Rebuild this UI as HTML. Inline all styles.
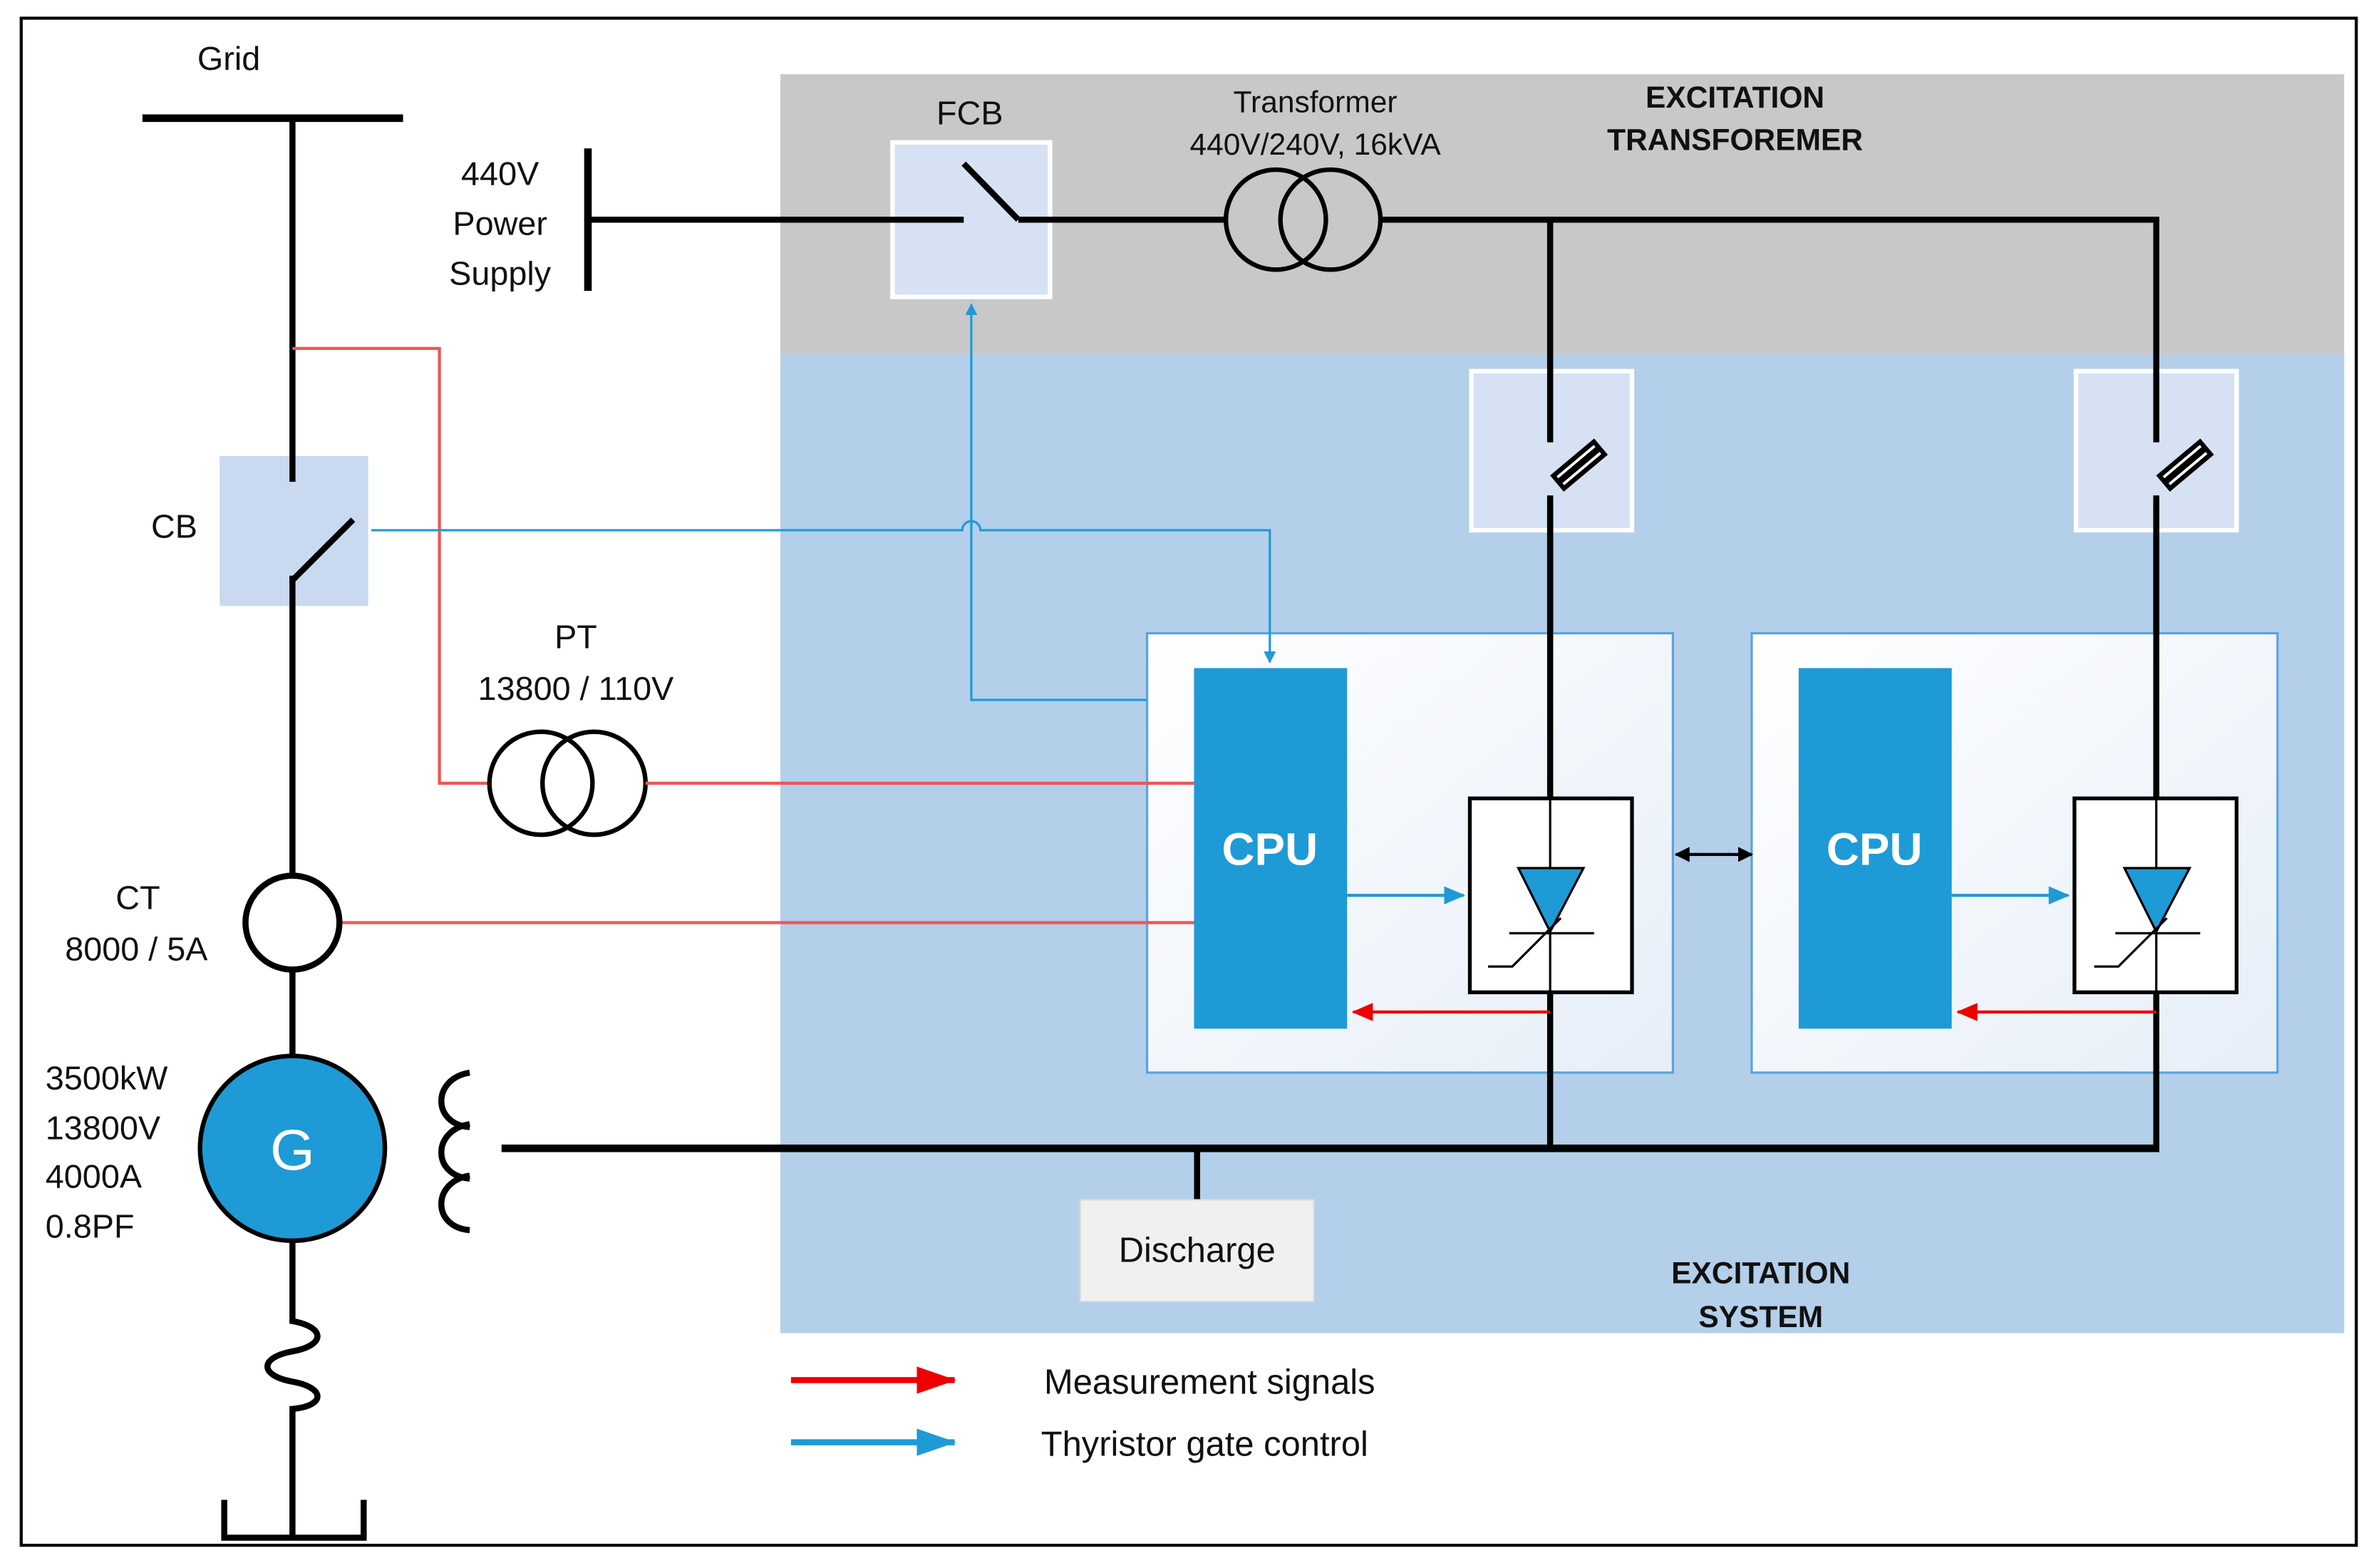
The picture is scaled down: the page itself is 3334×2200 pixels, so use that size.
<!DOCTYPE html>
<html><head><meta charset="utf-8"><style>
html,body{margin:0;padding:0;background:#fff;width:3334px;height:2200px;overflow:hidden}
svg{display:block}
text{font-family:"Liberation Sans",sans-serif;fill:#111}
</style></head><body>
<svg width="3334" height="2200" viewBox="0 0 1568 1035" preserveAspectRatio="none" xmlns="http://www.w3.org/2000/svg">
<defs>
<marker id="ab" markerWidth="8" markerHeight="8" refX="7" refY="4" orient="auto" markerUnits="userSpaceOnUse"><path d="M0,0 L8,4 L0,8z" fill="#1e9ad6"/></marker>
<marker id="ar" markerWidth="14" markerHeight="12" refX="13" refY="6" orient="auto" markerUnits="userSpaceOnUse"><path d="M0,0 L14,6 L0,12z" fill="#e00"/></marker>
<marker id="ab2" markerWidth="14" markerHeight="12" refX="13" refY="6" orient="auto" markerUnits="userSpaceOnUse"><path d="M0,0 L14,6 L0,12z" fill="#1e9ad6"/></marker>
<marker id="arL" markerWidth="26" markerHeight="18" refX="25" refY="9" orient="auto" markerUnits="userSpaceOnUse"><path d="M0,0 L26,9 L0,18z" fill="#e00"/></marker>
<marker id="abL" markerWidth="26" markerHeight="18" refX="25" refY="9" orient="auto" markerUnits="userSpaceOnUse"><path d="M0,0 L26,9 L0,18z" fill="#1e9ad6"/></marker>
<marker id="ak" markerWidth="10" markerHeight="10" refX="9" refY="5" orient="auto" markerUnits="userSpaceOnUse"><path d="M0,0 L10,5 L0,10z" fill="#000"/></marker>
<linearGradient id="mg" x1="0" y1="0" x2="1" y2="1"><stop offset="0" stop-color="#fff"/><stop offset="1" stop-color="#e6eef8"/></linearGradient>
</defs>
<rect x="14" y="12" width="1541" height="1008" fill="#fff" stroke="#000" stroke-width="2"/>
<rect x="515" y="49" width="1032" height="185" fill="#c8c8c8"/>
<rect x="515" y="234" width="1032" height="646" fill="#b4cfea"/>
<text x="151" y="46" font-size="22" text-anchor="middle">Grid</text>
<line x1="94" y1="78" x2="266" y2="78" stroke="#000" stroke-width="5"/>
<rect x="145" y="301" width="98" height="99" fill="#c9daf0"/>
<line x1="193" y1="78" x2="193" y2="318" stroke="#000" stroke-width="4"/>
<line x1="193" y1="383" x2="233" y2="343" stroke="#000" stroke-width="4"/>
<line x1="193" y1="380" x2="193" y2="578" stroke="#000" stroke-width="4"/>
<text x="115" y="355" font-size="22" text-anchor="middle">CB</text>
<circle cx="193" cy="609" r="31" fill="none" stroke="#000" stroke-width="4"/>
<line x1="193" y1="640" x2="193" y2="697" stroke="#000" stroke-width="4"/>
<text x="91" y="600" font-size="22" text-anchor="middle">CT</text>
<text x="90" y="634" font-size="22" text-anchor="middle">8000 / 5A</text>
<circle cx="193" cy="758" r="61" fill="#1e9ad6" stroke="#000" stroke-width="3"/>
<text x="193" y="772" font-size="38" text-anchor="middle" style="fill:#fff">G</text>
<text x="30" y="719" font-size="22">3500kW</text>
<text x="30" y="752" font-size="22">13800V</text>
<text x="30" y="784" font-size="22">4000A</text>
<text x="30" y="817" font-size="22">0.8PF</text>
<path d="M193,820 L193,872 C215,876 215,888 193,892 C171,896 171,908 193,912 C215,916 215,928 193,930 L193,1015" fill="none" stroke="#000" stroke-width="4"/>
<path d="M148,990 L148,1015 L240,1015 L240,990" fill="none" stroke="#000" stroke-width="4"/>
<path d="M310,708 C285,712 285,742 310,744 M310,742 C285,746 285,776 310,778 M310,776 C285,780 285,810 310,812" fill="none" stroke="#000" stroke-width="4"/>
<line x1="331" y1="758" x2="1425" y2="758" stroke="#000" stroke-width="5"/>
<line x1="790" y1="758" x2="790" y2="792" stroke="#000" stroke-width="4"/>
<rect x="713" y="792" width="154" height="67" fill="#f0f0f0" stroke="#ddd"/>
<text x="790" y="833" font-size="23" text-anchor="middle">Discharge</text>
<line x1="388" y1="98" x2="388" y2="192" stroke="#000" stroke-width="5"/>
<text x="330" y="122" font-size="22" text-anchor="middle">440V</text>
<text x="330" y="155" font-size="22" text-anchor="middle">Power</text>
<text x="330" y="188" font-size="22" text-anchor="middle">Supply</text>
<rect x="589" y="94" width="104" height="102" fill="#d6e2f3" stroke="#fff" stroke-width="3"/>
<text x="640" y="82" font-size="22" text-anchor="middle">FCB</text>
<line x1="388" y1="145" x2="636" y2="145" stroke="#000" stroke-width="4"/>
<line x1="636" y1="108" x2="672" y2="145" stroke="#000" stroke-width="4"/>
<line x1="672" y1="145" x2="809" y2="145" stroke="#000" stroke-width="4"/>
<circle cx="842" cy="145" r="33" fill="none" stroke="#000" stroke-width="3"/>
<circle cx="878" cy="145" r="33" fill="none" stroke="#000" stroke-width="3"/>
<text x="868" y="74" font-size="20" text-anchor="middle">Transformer</text>
<text x="868" y="102" font-size="20" text-anchor="middle">440V/240V, 16kVA</text>
<text x="1145" y="71" font-size="20" font-weight="bold" text-anchor="middle">EXCITATION</text>
<text x="1145" y="99" font-size="20" font-weight="bold" text-anchor="middle">TRANSFOREMER</text>
<rect x="971" y="245" width="106" height="105" fill="#d6e2f3" stroke="#fff" stroke-width="3"/>
<rect x="1370" y="245" width="106" height="105" fill="#d6e2f3" stroke="#fff" stroke-width="3"/>
<path d="M911,145 L1423,145 L1423,292 M1023,145 L1023,292 M1023,327 L1023,527 M1423,327 L1423,527" fill="none" stroke="#000" stroke-width="4"/>
<g transform="rotate(-40 1042 307)"><rect x="1023" y="300" width="38" height="14" fill="#000"/><line x1="1026" y1="304" x2="1058" y2="304" stroke="#fff" stroke-width="1.8"/><line x1="1026" y1="310" x2="1058" y2="310" stroke="#fff" stroke-width="1.8"/></g>
<g transform="rotate(-40 1442 307)"><rect x="1423" y="300" width="38" height="14" fill="#000"/><line x1="1426" y1="304" x2="1458" y2="304" stroke="#fff" stroke-width="1.8"/><line x1="1426" y1="310" x2="1458" y2="310" stroke="#fff" stroke-width="1.8"/></g>
<rect x="757" y="418" width="347" height="290" fill="url(#mg)" stroke="#5ba3d9" stroke-width="1.5"/>
<rect x="1156" y="418" width="347" height="290" fill="url(#mg)" stroke="#5ba3d9" stroke-width="1.5"/>
<rect x="788" y="441" width="101" height="238" fill="#1e9ad6"/>
<rect x="1187" y="441" width="101" height="238" fill="#1e9ad6"/>
<text x="838" y="571" font-size="30" font-weight="bold" text-anchor="middle" style="fill:#fff">CPU</text>
<text x="1237" y="571" font-size="30" font-weight="bold" text-anchor="middle" style="fill:#fff">CPU</text>
<path d="M1023,330 L1023,527 M1423,330 L1423,527 M1023,655 L1023,758 M1423,655 L1423,758" stroke="#000" stroke-width="4"/>
<g stroke="#000" stroke-width="1.5">
<rect x="970" y="527" width="107" height="128" fill="#fff" stroke-width="2.5"/>
<rect x="1369" y="527" width="107" height="128" fill="#fff" stroke-width="2.5"/>
<line x1="1023" y1="527" x2="1023" y2="655"/><line x1="1423" y1="527" x2="1423" y2="655"/>
<path d="M1002,573 L1045,573 L1023,615z" fill="#1e9ad6"/><path d="M1402,573 L1445,573 L1423,615z" fill="#1e9ad6"/>
<line x1="996" y1="616" x2="1052" y2="616"/><line x1="1396" y1="616" x2="1452" y2="616"/>
<path d="M982,638 L998,638 L1030,606" fill="none"/><path d="M1382,638 L1398,638 L1430,606" fill="none"/>
</g>
<line x1="889" y1="591" x2="966" y2="591" stroke="#1e9ad6" stroke-width="2" marker-end="url(#ab2)"/>
<line x1="1288" y1="591" x2="1365" y2="591" stroke="#1e9ad6" stroke-width="2" marker-end="url(#ab2)"/>
<line x1="1023" y1="668" x2="893" y2="668" stroke="#e00" stroke-width="2" marker-end="url(#ar)"/>
<line x1="1423" y1="668" x2="1292" y2="668" stroke="#e00" stroke-width="2" marker-end="url(#ar)"/>
<line x1="1120" y1="564" x2="1106" y2="564" stroke="#000" stroke-width="2" marker-end="url(#ak)"/>
<line x1="1140" y1="564" x2="1156" y2="564" stroke="#000" stroke-width="2" marker-end="url(#ak)"/>
<line x1="1118" y1="564" x2="1142" y2="564" stroke="#000" stroke-width="2"/>
<path d="M193,230 L290,230 L290,517 L322,517" fill="none" stroke="#f05555" stroke-width="2"/>
<circle cx="357" cy="517" r="34" fill="none" stroke="#000" stroke-width="3"/>
<circle cx="392" cy="517" r="34" fill="none" stroke="#000" stroke-width="3"/>
<text x="380" y="428" font-size="22" text-anchor="middle">PT</text>
<text x="380" y="462" font-size="22" text-anchor="middle">13800 / 110V</text>
<line x1="426" y1="517" x2="788" y2="517" stroke="#f05555" stroke-width="2"/>
<line x1="226" y1="609" x2="788" y2="609" stroke="#f05555" stroke-width="2"/>
<path d="M245,350 L635,350 A6,6 0 0 1 647,350 L838,350 L838,437" fill="none" stroke="#1e9ad6" stroke-width="1.5" marker-end="url(#ab)"/>
<path d="M757,462 L641,462 L641,201" fill="none" stroke="#1e9ad6" stroke-width="1.5" marker-end="url(#ab)"/>
<text x="1162" y="847" font-size="20" font-weight="bold" text-anchor="middle">EXCITATION</text>
<text x="1162" y="876" font-size="20" font-weight="bold" text-anchor="middle">SYSTEM</text>
<line x1="522" y1="911" x2="630" y2="911" stroke="#e00" stroke-width="4" marker-end="url(#arL)"/>
<line x1="522" y1="952" x2="630" y2="952" stroke="#1e9ad6" stroke-width="4" marker-end="url(#abL)"/>
<text x="689" y="920" font-size="23">Measurement signals</text>
<text x="687" y="961" font-size="23">Thyristor gate control</text>
</svg>
</body></html>
